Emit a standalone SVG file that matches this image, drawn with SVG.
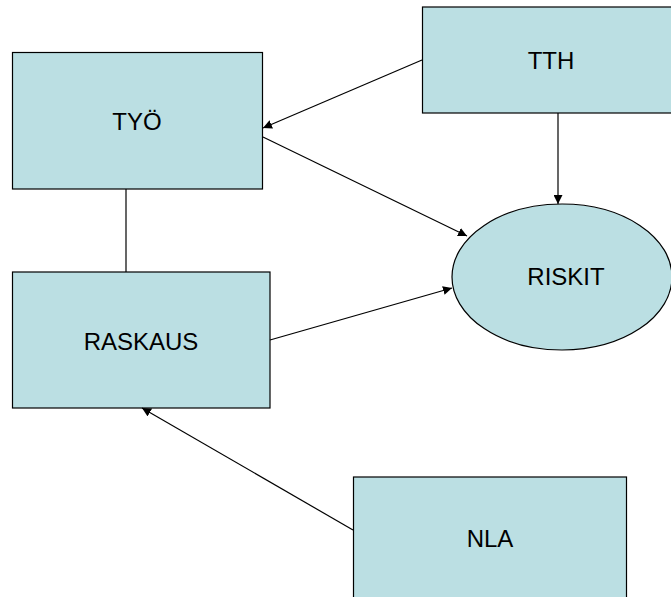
<svg xmlns="http://www.w3.org/2000/svg" width="671" height="597" viewBox="0 0 671 597">
<style>
.n{fill:#BBDFE3;stroke:#000;stroke-width:1.2}
.t{font-family:"Liberation Sans",Arial,sans-serif;font-size:24px;fill:#000;text-anchor:middle}
.c{stroke:#000;stroke-width:1.2;fill:none}
</style>
<defs>
<marker id="a" viewBox="0 0 10 10" refX="10" refY="5" markerWidth="9" markerHeight="9" markerUnits="userSpaceOnUse" orient="auto">
<path d="M0,0 L10,5 L0,10 z" fill="#000"/>
</marker>
</defs>
<rect width="671" height="597" fill="#fff"/>
<g id="TYO"><rect class="n" x="12.5" y="52.5" width="250" height="136.5"/><text class="t" x="137" y="130">TYÖ</text></g>
<g id="TTH"><rect class="n" x="422.5" y="7" width="258" height="106"/><text class="t" x="551" y="69">TTH</text></g>
<g id="RISKIT"><ellipse class="n" cx="562" cy="277" rx="110" ry="73"/><text class="t" x="566" y="285">RISKIT</text></g>
<g id="RASKAUS"><rect class="n" x="12.5" y="272" width="257.5" height="136"/><text class="t" x="141" y="350">RASKAUS</text></g>
<g id="NLA"><rect class="n" x="353.5" y="477" width="273" height="130"/><text class="t" x="490" y="547">NLA</text></g>
<g id="connectors">
<line class="c" x1="422" y1="60" x2="263" y2="128" marker-end="url(#a)"/>
<line class="c" x1="263" y1="137" x2="467" y2="236" marker-end="url(#a)"/>
<line class="c" x1="558" y1="113" x2="558" y2="204" marker-end="url(#a)"/>
<line class="c" x1="126" y1="189" x2="126" y2="272"/>
<line class="c" x1="270" y1="340" x2="452" y2="288" marker-end="url(#a)"/>
<line class="c" x1="353" y1="530" x2="142" y2="408" marker-end="url(#a)"/>
</g>
</svg>
